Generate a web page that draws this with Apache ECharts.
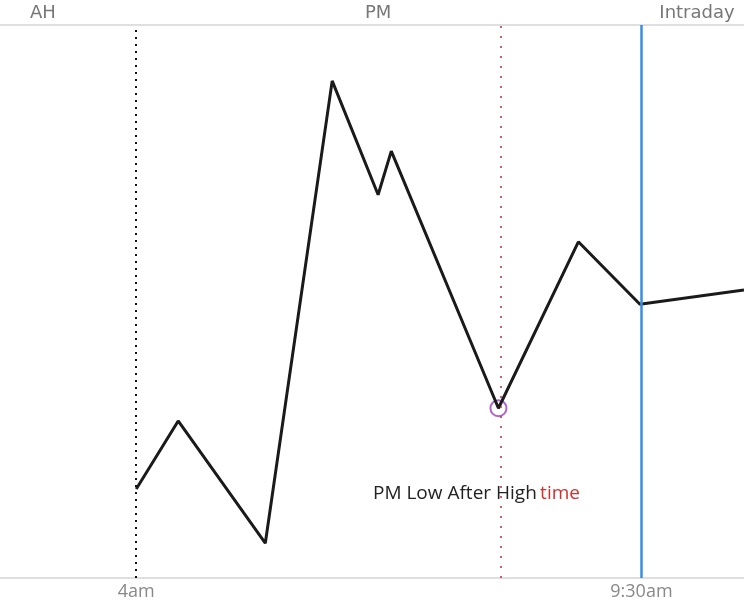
<!DOCTYPE html>
<html><head><meta charset="utf-8">
<script src="https://cdn.jsdelivr.net/npm/echarts@6/dist/echarts.min.js"></script>
<style>html,body{margin:0;padding:0;background:#fff}#c{width:744px;height:606px}</style>
</head><body><div id="c"></div>
<script>
// minutes from 4am
const times = [0, 27.4, 84.3, 128, 158, 166.6, 236.6, 288.8, 329, 397];
const prices = [16.1, 28.4, 6.3, 89.9, 69.3, 77.2, 30.7, 60.8, 49.5, 52.1];
const sessionLabels = ['AH', 'PM', 'Intraday'];
const sessionLabelPos = [-61, 158, 366.3];
const tickLabels = ['4am', '9:30am'];
const tickPos = [0, 330];
const pmStart = 0, pmLowTime = 238, openTime = 330;
const pmLow = [236.6, 30.7];

const chart = echarts.init(document.getElementById('c'));
const sessMap = {}; sessionLabelPos.forEach((p,i)=>sessMap[p]=sessionLabels[i]);
const tickMap = {}; tickPos.forEach((p,i)=>tickMap[p]=tickLabels[i]);
chart.setOption({
  animation:false,
  grid:{left:0,right:0,top:25,bottom:28},
  xAxis:[{
    type:'value',min:-89,max:397,position:'bottom',
    splitLine:{show:false},axisTick:{show:false},
    axisLine:{show:true,lineStyle:{color:'#d4d4d4',width:1.5}},
    axisLabel:{customValues:tickPos,formatter:v=>tickMap[v]||'',color:'#888',fontSize:18,fontFamily:'Open Sans',margin:5,showMinLabel:true,showMaxLabel:true}
  },{
    type:'value',min:-89,max:397,position:'top',
    splitLine:{show:false},axisTick:{show:false},
    axisLine:{show:true,lineStyle:{color:'#d4d4d4',width:1.5}},
    axisLabel:{customValues:sessionLabelPos,formatter:v=>sessMap[v]||'',color:'#777',fontSize:18,fontFamily:'DejaVu Sans',margin:3}
  }],
  yAxis:{type:'value',min:0,max:100,show:false},
  series:[{
    type:'line',data:times.map((t,i)=>[t,prices[i]]),symbol:'none',
    lineStyle:{color:'#1a1a1a',width:3},
    markLine:{symbol:'none',silent:true,label:{show:false},data:[
      {xAxis:pmStart,lineStyle:{color:'#111',type:[2,5],width:2}},
      {xAxis:pmLowTime,lineStyle:{color:'#b0304a',type:[2,8],width:1.5}},
      {xAxis:openTime,lineStyle:{color:'#3a8ee0',type:'solid',width:2.5}}
    ]}
  },{
    type:'scatter',data:[pmLow],symbol:'circle',symbolSize:16,
    itemStyle:{color:'rgba(0,0,0,0)',borderColor:'#9b3fc0',borderWidth:2}
  }],
  graphic:[{
    type:'text',left:373,top:484,
    style:{rich:{a:{fill:'#222',fontSize:19,fontFamily:'Open Sans'},b:{fill:'#d03030',fontSize:19,fontFamily:'Open Sans'}},
      text:'{a|PM Low After High} {b|time}'}
  }]
});
</script></body></html>
